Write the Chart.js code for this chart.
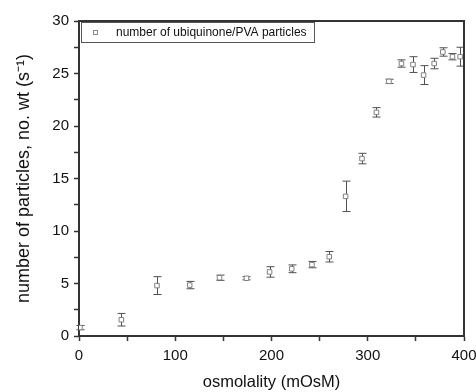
<!DOCTYPE html>
<html>
<head>
<meta charset="utf-8">
<script src="https://cdn.jsdelivr.net/npm/chart.js@4.4.0/dist/chart.umd.min.js"></script>
<style>
  html, body { margin: 0; padding: 0; background: #fff; }
  #wrap { width: 476px; height: 392px; }
</style>
</head>
<body>
<div id="wrap"><canvas id="pic" width="476" height="392"></canvas></div>
<script>
// data
var osmolality = [1, 44, 81, 115, 146, 174, 198, 221, 242, 260, 277, 294, 309, 322, 335, 347, 358, 369, 378, 388, 396];
var particles = [0.8, 1.55, 4.8, 4.85, 5.55, 5.5, 6.1, 6.4, 6.8, 7.55, 13.3, 16.9, 21.3, 24.25, 25.95, 25.85, 24.85, 25.95, 27.05, 26.6, 26.6];
var errors = [0.2, 0.6, 0.85, 0.35, 0.25, 0.15, 0.5, 0.37, 0.3, 0.5, 1.45, 0.5, 0.45, 0.2, 0.35, 0.75, 0.9, 0.5, 0.4, 0.3, 0.9];
var seriesLabel = 'number of ubiquinone/PVA particles';
var xTitle = 'osmolality (mOsM)';
var yTitle = 'number of particles, no. wt (s\u207B\u00B9)';

var FONT = "'Liberation Sans', Arial, sans-serif";
var AXIS = '#333333';

var points = osmolality.map(function (x, i) { return { x: x, y: particles[i] }; });

// error bars, drawn through the chart's scales
var errorBars = {
  id: 'errorBars',
  beforeDatasetsDraw: function (chart) {
    var ctx = chart.ctx, xs = chart.scales.x, ys = chart.scales.y;
    ctx.save();
    ctx.strokeStyle = '#505050';
    ctx.lineWidth = 1;
    for (var i = 0; i < osmolality.length; i++) {
      var px = Math.round(xs.getPixelForValue(osmolality[i])) + 0.5;
      var top = ys.getPixelForValue(particles[i] + errors[i]);
      var bot = ys.getPixelForValue(particles[i] - errors[i]);
      ctx.beginPath();
      ctx.moveTo(px, top); ctx.lineTo(px, bot);
      ctx.moveTo(px - 4, top); ctx.lineTo(px + 4, top);
      ctx.moveTo(px - 4, bot); ctx.lineTo(px + 4, bot);
      ctx.stroke();
    }
    ctx.restore();
  }
};

// frame on top/right and the boxed legend inside the plot
var frameLegend = {
  id: 'frameLegend',
  afterDraw: function (chart) {
    var ctx = chart.ctx, a = chart.chartArea;
    ctx.save();
    ctx.strokeStyle = AXIS;
    ctx.lineWidth = 2;
    ctx.beginPath();
    ctx.moveTo(a.left, a.top); ctx.lineTo(a.right, a.top); ctx.lineTo(a.right, a.bottom);
    ctx.stroke();

    // legend box
    ctx.lineWidth = 1;
    ctx.strokeStyle = '#555555';
    ctx.strokeRect(a.left + 2.5, a.top + 1.5, 233, 20);
    ctx.strokeStyle = '#888888';
    ctx.strokeRect(a.left + 14.5, a.top + 9.5, 4, 4);
    ctx.fillStyle = '#111111';
    ctx.font = '12px ' + FONT;
    ctx.textBaseline = 'middle';
    ctx.fillText(chart.data.datasets[0].label, a.left + 37, a.top + 12);
    ctx.restore();
  }
};

var chart = new Chart(document.getElementById('pic').getContext('2d'), {
  type: 'scatter',
  data: {
    datasets: [{
      label: seriesLabel,
      data: points,
      pointStyle: 'rect',
      pointRadius: 3.2,
      pointBorderWidth: 1,
      borderColor: '#808080',
      backgroundColor: '#ffffff',
      pointHoverRadius: 3.2
    }]
  },
  options: {
    responsive: false,
    animation: false,
    events: [],
    layout: { padding: { top: 21, right: 12, left: 0, bottom: 0 } },
    plugins: { legend: { display: false }, tooltip: { enabled: false } },
    scales: {
      x: {
        type: 'linear',
        min: 0, max: 400,
        afterFit: function (s) { s.height = 56; s.paddingLeft = 0; s.paddingRight = 0; },
        border: { display: true, color: AXIS, width: 2 },
        grid: { drawOnChartArea: false, drawTicks: true, tickLength: 5, color: AXIS, tickWidth: 1.5 },
        ticks: {
          stepSize: 50, autoSkip: false, maxRotation: 0, padding: 6,
          color: '#111111', font: { family: FONT, size: 15 },
          callback: function (v) { return v % 100 === 0 ? v : ''; }
        },
        title: { display: true, text: xTitle, color: '#111111', font: { family: FONT, size: 16.5 }, padding: { top: 0, bottom: 0 } }
      },
      y: {
        type: 'linear',
        min: 0, max: 30,
        afterFit: function (s) { s.width = 79; s.paddingTop = 0; s.paddingBottom = 0; },
        border: { display: true, color: AXIS, width: 2 },
        grid: { drawOnChartArea: false, drawTicks: true, tickLength: 5, color: AXIS, tickWidth: 1.5 },
        ticks: {
          stepSize: 2.5, autoSkip: false, padding: 5,
          color: '#111111', font: { family: FONT, size: 15 },
          callback: function (v) { return v % 5 === 0 ? v : ''; }
        },
        title: { display: true, text: yTitle, color: '#111111', font: { family: FONT, size: 18 }, padding: { top: 13, bottom: 0 } }
      }
    }
  },
  plugins: [errorBars, frameLegend]
});
</script>
</body>
</html>
